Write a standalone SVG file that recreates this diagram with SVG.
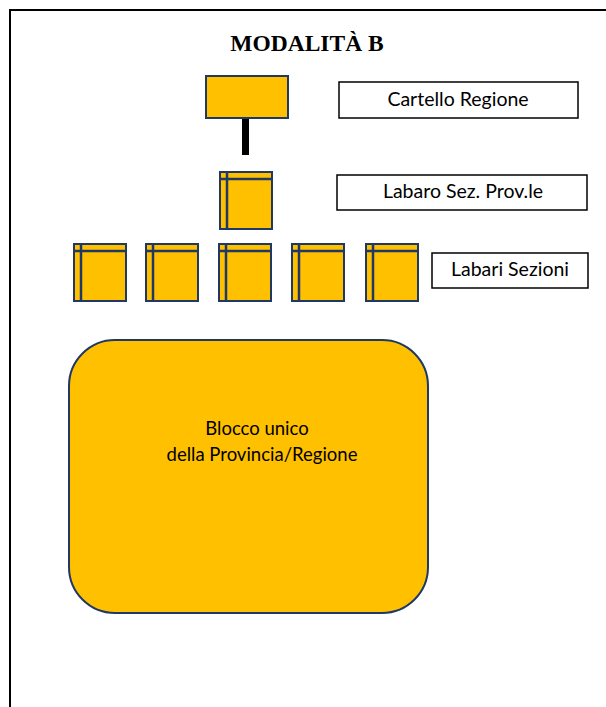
<svg xmlns="http://www.w3.org/2000/svg" width="606" height="707" viewBox="0 0 606 707">
<style>
.sq{fill:#FFC000;stroke:#1F3864;stroke-width:2}
.in{stroke:#1F3864;stroke-width:2.5;fill:none}
.lbl{fill:#fff;stroke:#000;stroke-width:1.5}
.t{font-family:Lato,"Open Sans",sans-serif;font-size:19.5px;fill:#000;text-anchor:middle}
</style>
<defs>
<g id="lab">
<rect class="sq" x="0" y="0" width="52" height="57"/>
<path class="in" d="M7,1V56M1,7H51"/>
</g>
</defs>
<rect width="606" height="707" fill="#fff"/>
<path d="M10,707V10H606" fill="none" stroke="#000" stroke-width="2"/>
<text x="307" y="51" font-family="'Liberation Serif',serif" font-weight="bold" font-size="23.5" text-anchor="middle">MODALITÀ B</text>
<g id="connectors">
<rect x="242" y="118" width="7" height="37" fill="#000"/>
</g>
<g id="cartello">
<rect class="sq" x="206" y="76" width="82" height="42"/>
</g>
<g id="cartello-label">
<rect class="lbl" x="339" y="82" width="239" height="36"/>
<text class="t" x="458" y="106">Cartello Regione</text>
</g>
<g id="labaro-prov">
<use href="#lab" x="220" y="172"/>
</g>
<g id="labaro-label">
<rect class="lbl" x="337" y="175" width="250" height="35"/>
<text class="t" x="463" y="198">Labaro Sez. Prov.le</text>
</g>
<g id="labari-sezioni">
<use href="#lab" x="74" y="244"/>
<use href="#lab" x="146" y="244"/>
<use href="#lab" x="219" y="244"/>
<use href="#lab" x="292" y="244"/>
<use href="#lab" x="366" y="244"/>
</g>
<g id="labari-label">
<rect class="lbl" x="432" y="253" width="156" height="35"/>
<text class="t" x="510" y="276">Labari Sezioni</text>
</g>
<g id="blocco">
<rect class="sq" x="69" y="340" width="359" height="273" rx="46"/>
<text class="t" x="257" y="435" style="font-size:18.5px">Blocco unico</text>
<text class="t" x="262" y="461" style="font-size:18.5px">della Provincia/Regione</text>
</g>
</svg>
